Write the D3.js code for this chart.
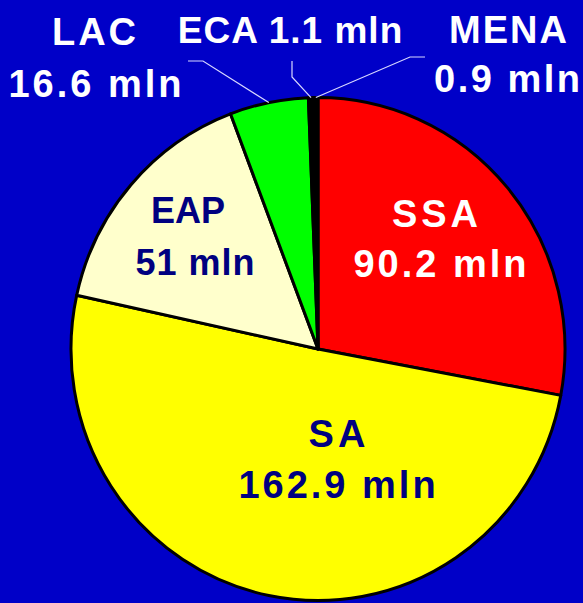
<!DOCTYPE html>
<html>
<head>
<meta charset="utf-8">
<script src="https://cdn.jsdelivr.net/npm/d3@7"></script>
<style>
html,body{margin:0;padding:0;background:#0000c8;overflow:hidden;}
svg{display:block;}
text{font-family:"Liberation Sans",Arial,sans-serif;font-weight:bold;}
</style>
</head>
<body>
<svg id="chart" width="583" height="603"></svg>
<script>
// Data
const regions = ["SSA", "SA", "EAP", "LAC", "ECA", "MENA"];
const values = [90.2, 162.9, 51, 16.6, 1.1, 0.9];
const unit = "mln";
const colors = ["#ff0000", "#ffff00", "#ffffcc", "#00ff00", "#000000", "#000000"];

// Layout (label positions, styles)
const layout = {
  SSA:  {name:[435,227], val:[440,277], fill:"#ffffff", size:38, ls:[4,3]},
  SA:   {name:[337,447], val:[337,498], fill:"#000080", size:38, ls:[4,3]},
  EAP:  {name:[188,223], val:[195,275], fill:"#000080", size:36, ls:[0,1]},
  LAC:  {name:[94,45],   val:[95,97],   fill:"#ffffff", size:38, ls:[3,3], line:[[188,61],[203,61]]},
  ECA:  {inline:[290,43], fill:"#ffffff", size:37, ls:[1,1], line:[[292,61],[292,77]]},
  MENA: {name:[508,43],  val:[507,92],  fill:"#ffffff", size:38, ls:[2,2.5], line:[[425,57],[410,57]]}
};

const svg = d3.select("#chart");
const cx = 318, cy = 349, ry = 251.5, rx = 247;
const sx = rx / ry;

const pie = d3.pie().sort(null).value(d => d.v).startAngle(0).endAngle(2*Math.PI);
const data = regions.map((n,i) => ({name:n, v:values[i], color:colors[i]}));
const arcs = pie(data);
const arc = d3.arc().innerRadius(0).outerRadius(ry);

const g = svg.append("g").attr("transform", `translate(${cx},${cy}) scale(${sx},1)`);
g.selectAll("path").data(arcs).join("path")
  .attr("d", arc)
  .attr("fill", d => d.data.color)
  .attr("stroke", "#000")
  .attr("stroke-width", 3)
  .attr("vector-effect", "non-scaling-stroke")
  .attr("stroke-linejoin", "round");

// leader lines
arcs.forEach(a => {
  const L = layout[a.data.name];
  if (!L.line) return;
  const mid = (a.startAngle + a.endAngle) / 2;
  const px = cx + rx * Math.sin(mid), py = cy - ry * Math.cos(mid);
  const pts = L.line.concat([[px, py]]);
  svg.append("path")
    .attr("d", d3.line()(pts))
    .attr("fill", "none")
    .attr("stroke", "#d8d8ff")
    .attr("stroke-width", 1.2);
});

// labels
arcs.forEach(a => {
  const n = a.data.name, L = layout[n];
  const valText = `${a.data.v} ${unit}`;
  const add = (pos, txt, ls) => {
    svg.append("text")
      .attr("x", pos[0] + ls/2).attr("y", pos[1])
      .attr("text-anchor", "middle")
      .attr("font-size", L.size)
      .attr("letter-spacing", ls)
      .attr("fill", L.fill)
      .text(txt);
  };
  if (L.inline) {
    add(L.inline, `${n} ${valText}`, L.ls[0]);
  } else {
    add(L.name, n, L.ls[0]);
    add(L.val, valText, L.ls[1]);
  }
});
</script>
</body>
</html>
